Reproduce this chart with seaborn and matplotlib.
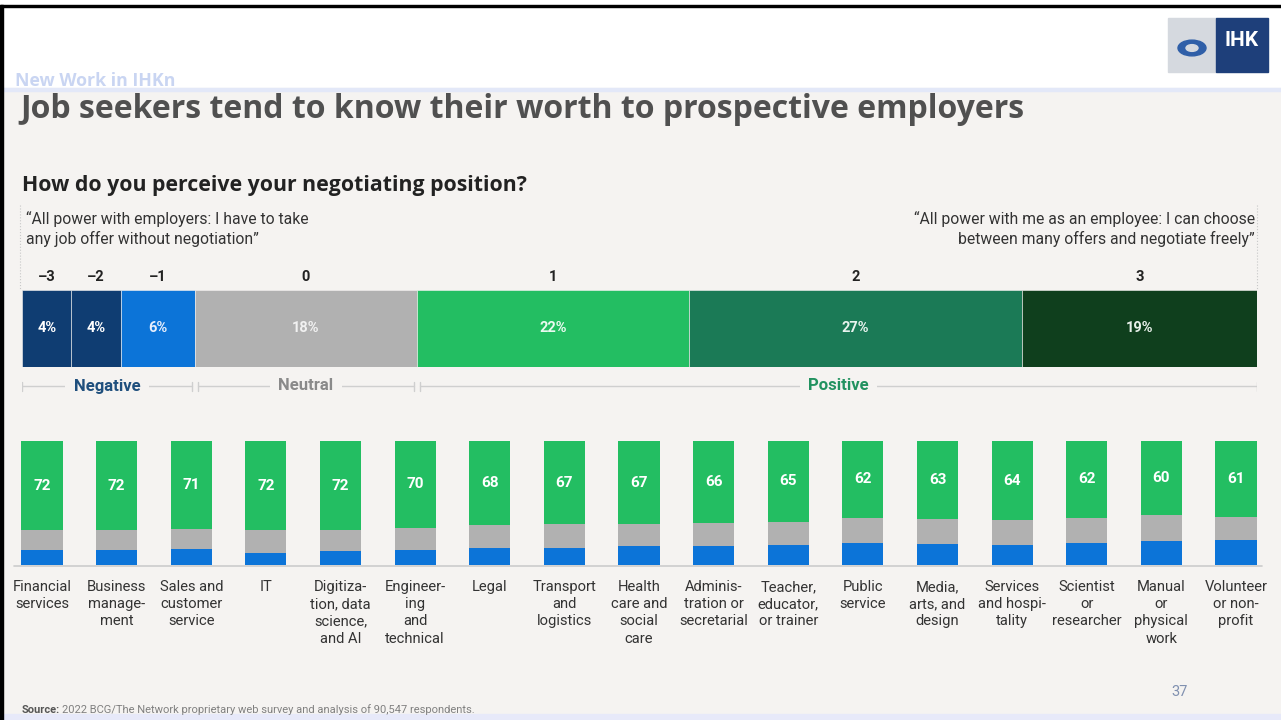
import matplotlib
matplotlib.use("Agg")
import matplotlib.pyplot as plt
import seaborn as sns
import pandas as pd
import numpy as np
from matplotlib.patches import Rectangle, Circle
from matplotlib.lines import Line2D

# ─── Data ─────────────────────────────────────────────────────────────────────
scale_labels = ["–3", "–2", "–1", "0", "1", "2", "3"]
scale_shares = [4, 4, 6, 18, 22, 27, 19]
scale_colors = ["#0f3d72", "#0f3d72", "#0c74d8", "#b1b1b1", "#23be62", "#1b7a56", "#0f3f1d"]
scale_text_colors = ["white", "white", "#e6eefc", "#f1f1f1", "#eafaf0", "#e8f3ee", "#e8f0ea"]

categories = [
    "Financial\nservices", "Business\nmanage-\nment", "Sales and\ncustomer\nservice", "IT",
    "Digitiza-\ntion, data\nscience,\nand AI", "Engineer-\ning\nand\ntechnical", "Legal",
    "Transport\nand\nlogistics", "Health\ncare and\nsocial\ncare", "Adminis-\ntration or\nsecretarial",
    "Teacher,\neducator,\nor trainer", "Public\nservice", "Media,\narts, and\ndesign",
    "Services\nand hospi-\ntality", "Scientist\nor\nresearcher", "Manual\nor\nphysical\nwork",
    "Volunteer\nor non-\nprofit",
]
positive = [72, 72, 71, 72, 72, 70, 68, 67, 67, 66, 65, 62, 63, 64, 62, 60, 61]
neutral = [16, 16, 16, 18, 17, 18, 18, 19, 18, 19, 19, 20, 20, 20, 20, 21, 19]
negative = [12, 12, 13, 10, 11, 12, 14, 14, 15, 15, 16, 18, 17, 16, 18, 19, 20]

# ─── Setup ────────────────────────────────────────────────────────────────────
W, H = 1281, 720
BG = "#f5f3f1"
sns.set_theme(style="white")
plt.rcParams["font.family"] = ["Roboto", "DejaVu Sans"]

fig = plt.figure(figsize=(W / 100, H / 100), dpi=100)
fig.patch.set_facecolor("white")


def fx(px):
    return px / W


def fy(py):
    return 1 - py / H


# slide background
fig.patches.append(Rectangle((0, 0), 1, fy(88), transform=fig.transFigure, color=BG, zorder=-5))
fig.patches.append(Rectangle((0, fy(91)), 1, 3 / H, transform=fig.transFigure, color="#e3e8f8", zorder=-4))
fig.patches.append(Rectangle((0, 0), 1, 6 / H, transform=fig.transFigure, color="#e7e9f9", zorder=-4))
fig.patches.append(Rectangle((0, fy(7)), 1, 2 / H, transform=fig.transFigure, color="black", zorder=-3))
fig.patches.append(Rectangle((0, 0), 3 / W, fy(5), transform=fig.transFigure, color="black", zorder=-3))

# logo
fig.patches.append(Rectangle((fx(1168), fy(72)), 48 / W, 54 / H, transform=fig.transFigure,
                             color="#d5d9df", zorder=-2))
fig.patches.append(Rectangle((fx(1216), fy(72)), 52 / W, 54 / H, transform=fig.transFigure,
                             color="#1e3f7a", zorder=-2))
fig.patches.append(Circle((fx(1192), fy(48)), 14 / W, transform=fig.transFigure,
                          color="#2f5fa8", zorder=-1))
fig.patches.append(Circle((fx(1192), fy(48)), 6 / W, transform=fig.transFigure,
                          color="#d5d9df", zorder=-1))
fig.text(fx(1242), fy(40), "IHK", color="white", fontsize=15, fontweight="bold",
         ha="center", va="center", family=["Roboto"])

# header texts
fig.text(fx(15), fy(81), "New Work in IHKn", color="#c9d5f2", fontsize=12.8, fontweight="bold",
         ha="left", va="center", family=["Open Sans", "DejaVu Sans"])
fig.text(fx(20), fy(110), "Job seekers tend to know their worth to prospective employers",
         color="#505050", fontsize=23, fontweight="bold", ha="left", va="center",
         family=["Open Sans", "DejaVu Sans"])
fig.text(fx(22), fy(186), "How do you perceive your negotiating position?", color="#222222",
         fontsize=15.3, fontweight="bold", ha="left", va="center", family=["Open Sans", "DejaVu Sans"])

fig.text(fx(26), fy(229), "\u201cAll power with employers: I have to take\nany job offer without negotiation\u201d",
         color="#333333", fontsize=11.3, ha="left", va="center", linespacing=1.25)
fig.text(fx(1255), fy(229), "\u201cAll power with me as an employee: I can choose\nbetween many offers and negotiate freely\u201d",
         color="#333333", fontsize=11.3, ha="right", va="center", multialignment="right", linespacing=1.25)

for xp in (20, 1257):
    fig.add_artist(Line2D([fx(xp), fx(xp)], [fy(205), fy(290)], transform=fig.transFigure,
                          color="#c8c8c8", lw=0.8, ls=":"))

# ─── Top stacked bar ──────────────────────────────────────────────────────────
ax_top = fig.add_axes([fx(22), fy(367), 1235 / W, 77 / H])
lefts = np.cumsum([0] + scale_shares[:-1])
ax_top.barh([0] * len(scale_shares), scale_shares, left=lefts, height=1.0,
            color=scale_colors, edgecolor=BG, linewidth=0.4)
for lab, share, left, tc in zip(scale_labels, scale_shares, lefts, scale_text_colors):
    cx = left + share / 2
    ax_top.text(cx, 0, f"{share}%", color=tc, fontsize=10.5, fontweight="bold",
                ha="center", va="center")
    ax_top.text(cx, 0.5 + 13 / 77, lab, color="#222222", fontsize=10.5, fontweight="bold",
                ha="center", va="center")
ax_top.set_xlim(0, 100)
ax_top.set_ylim(-0.5, 0.5)
ax_top.axis("off")

# ─── Bracket row ──────────────────────────────────────────────────────────────
groups = [("Negative", 0, 3, "#1f4f7d"), ("Neutral", 3, 4, "#8a8a8a"), ("Positive", 4, 7, "#229260")]
bounds = np.cumsum([0] + scale_shares)
ax_br = fig.add_axes([fx(22), fy(396), 1235 / W, 20 / H])
ax_br.set_xlim(0, 100)
ax_br.set_ylim(-1, 1)
ax_br.axis("off")
for name, i0, i1, col in groups:
    x0 = bounds[i0] + (0.25 if i0 > 0 else 0)
    x1 = bounds[i1] - (0.25 if i1 < 7 else 0)
    ax_br.plot([x0, x1], [0, 0], color="#cfcfcf", lw=1)
    ax_br.plot([x0, x0], [-0.45, 0.45], color="#cfcfcf", lw=1)
    ax_br.plot([x1, x1], [-0.45, 0.45], color="#cfcfcf", lw=1)
    ax_br.text((x0 + x1) / 2, 0, name, color=col, fontsize=12, fontweight="bold",
               ha="center", va="center",
               bbox=dict(boxstyle="square,pad=0.5", fc=BG, ec="none"))

# ─── Column bars ──────────────────────────────────────────────────────────────
df = pd.DataFrame({"cat": categories, "pos": positive, "neu": neutral, "neg": negative})
df["neg_neu"] = df["neg"] + df["neu"]
df["total"] = df["neg_neu"] + df["pos"]

step = 74.6
ax = fig.add_axes([fx(42 - step / 2), fy(565), (1236 - 42 + step) / W, 124 / H])
ax.set_facecolor("none")
sns.barplot(data=df, x="cat", y="total", color="#23be62", width=0.55, ax=ax,
            saturation=1, linewidth=0)
sns.barplot(data=df, x="cat", y="neg_neu", color="#b1b1b1", width=0.55, ax=ax,
            saturation=1, linewidth=0)
sns.barplot(data=df, x="cat", y="neg", color="#0c74d8", width=0.55, ax=ax,
            saturation=1, linewidth=0)
for i, row in df.iterrows():
    ax.text(i, row["neg_neu"] + row["pos"] / 2, str(row["pos"]), color="white",
            fontsize=11, fontweight="bold", ha="center", va="center")
    ax.text(i, -12, row["cat"], color="#333333", fontsize=10.6, ha="center", va="top",
            linespacing=1.3)
ax.set_xlim(-0.5, len(categories) - 0.5)
ax.set_ylim(0, 100)
ax.axis("off")
fig.add_artist(Line2D([fx(14), fx(1262)], [fy(566), fy(566)], transform=fig.transFigure,
                      color="#cccccc", lw=1.2))

# ─── Footer ───────────────────────────────────────────────────────────────────
fig.text(fx(22), fy(710), "Source:", color="#555555", fontsize=8, fontweight="bold",
         ha="left", va="center")
fig.text(fx(62), fy(710), "2022 BCG/The Network proprietary web survey and analysis of 90,547 respondents.",
         color="#808080", fontsize=8, ha="left", va="center")
fig.text(fx(1180), fy(692), "37", color="#8090b0", fontsize=10.5, ha="center", va="center")

fig.savefig("out.png", dpi=100, facecolor=fig.get_facecolor())
